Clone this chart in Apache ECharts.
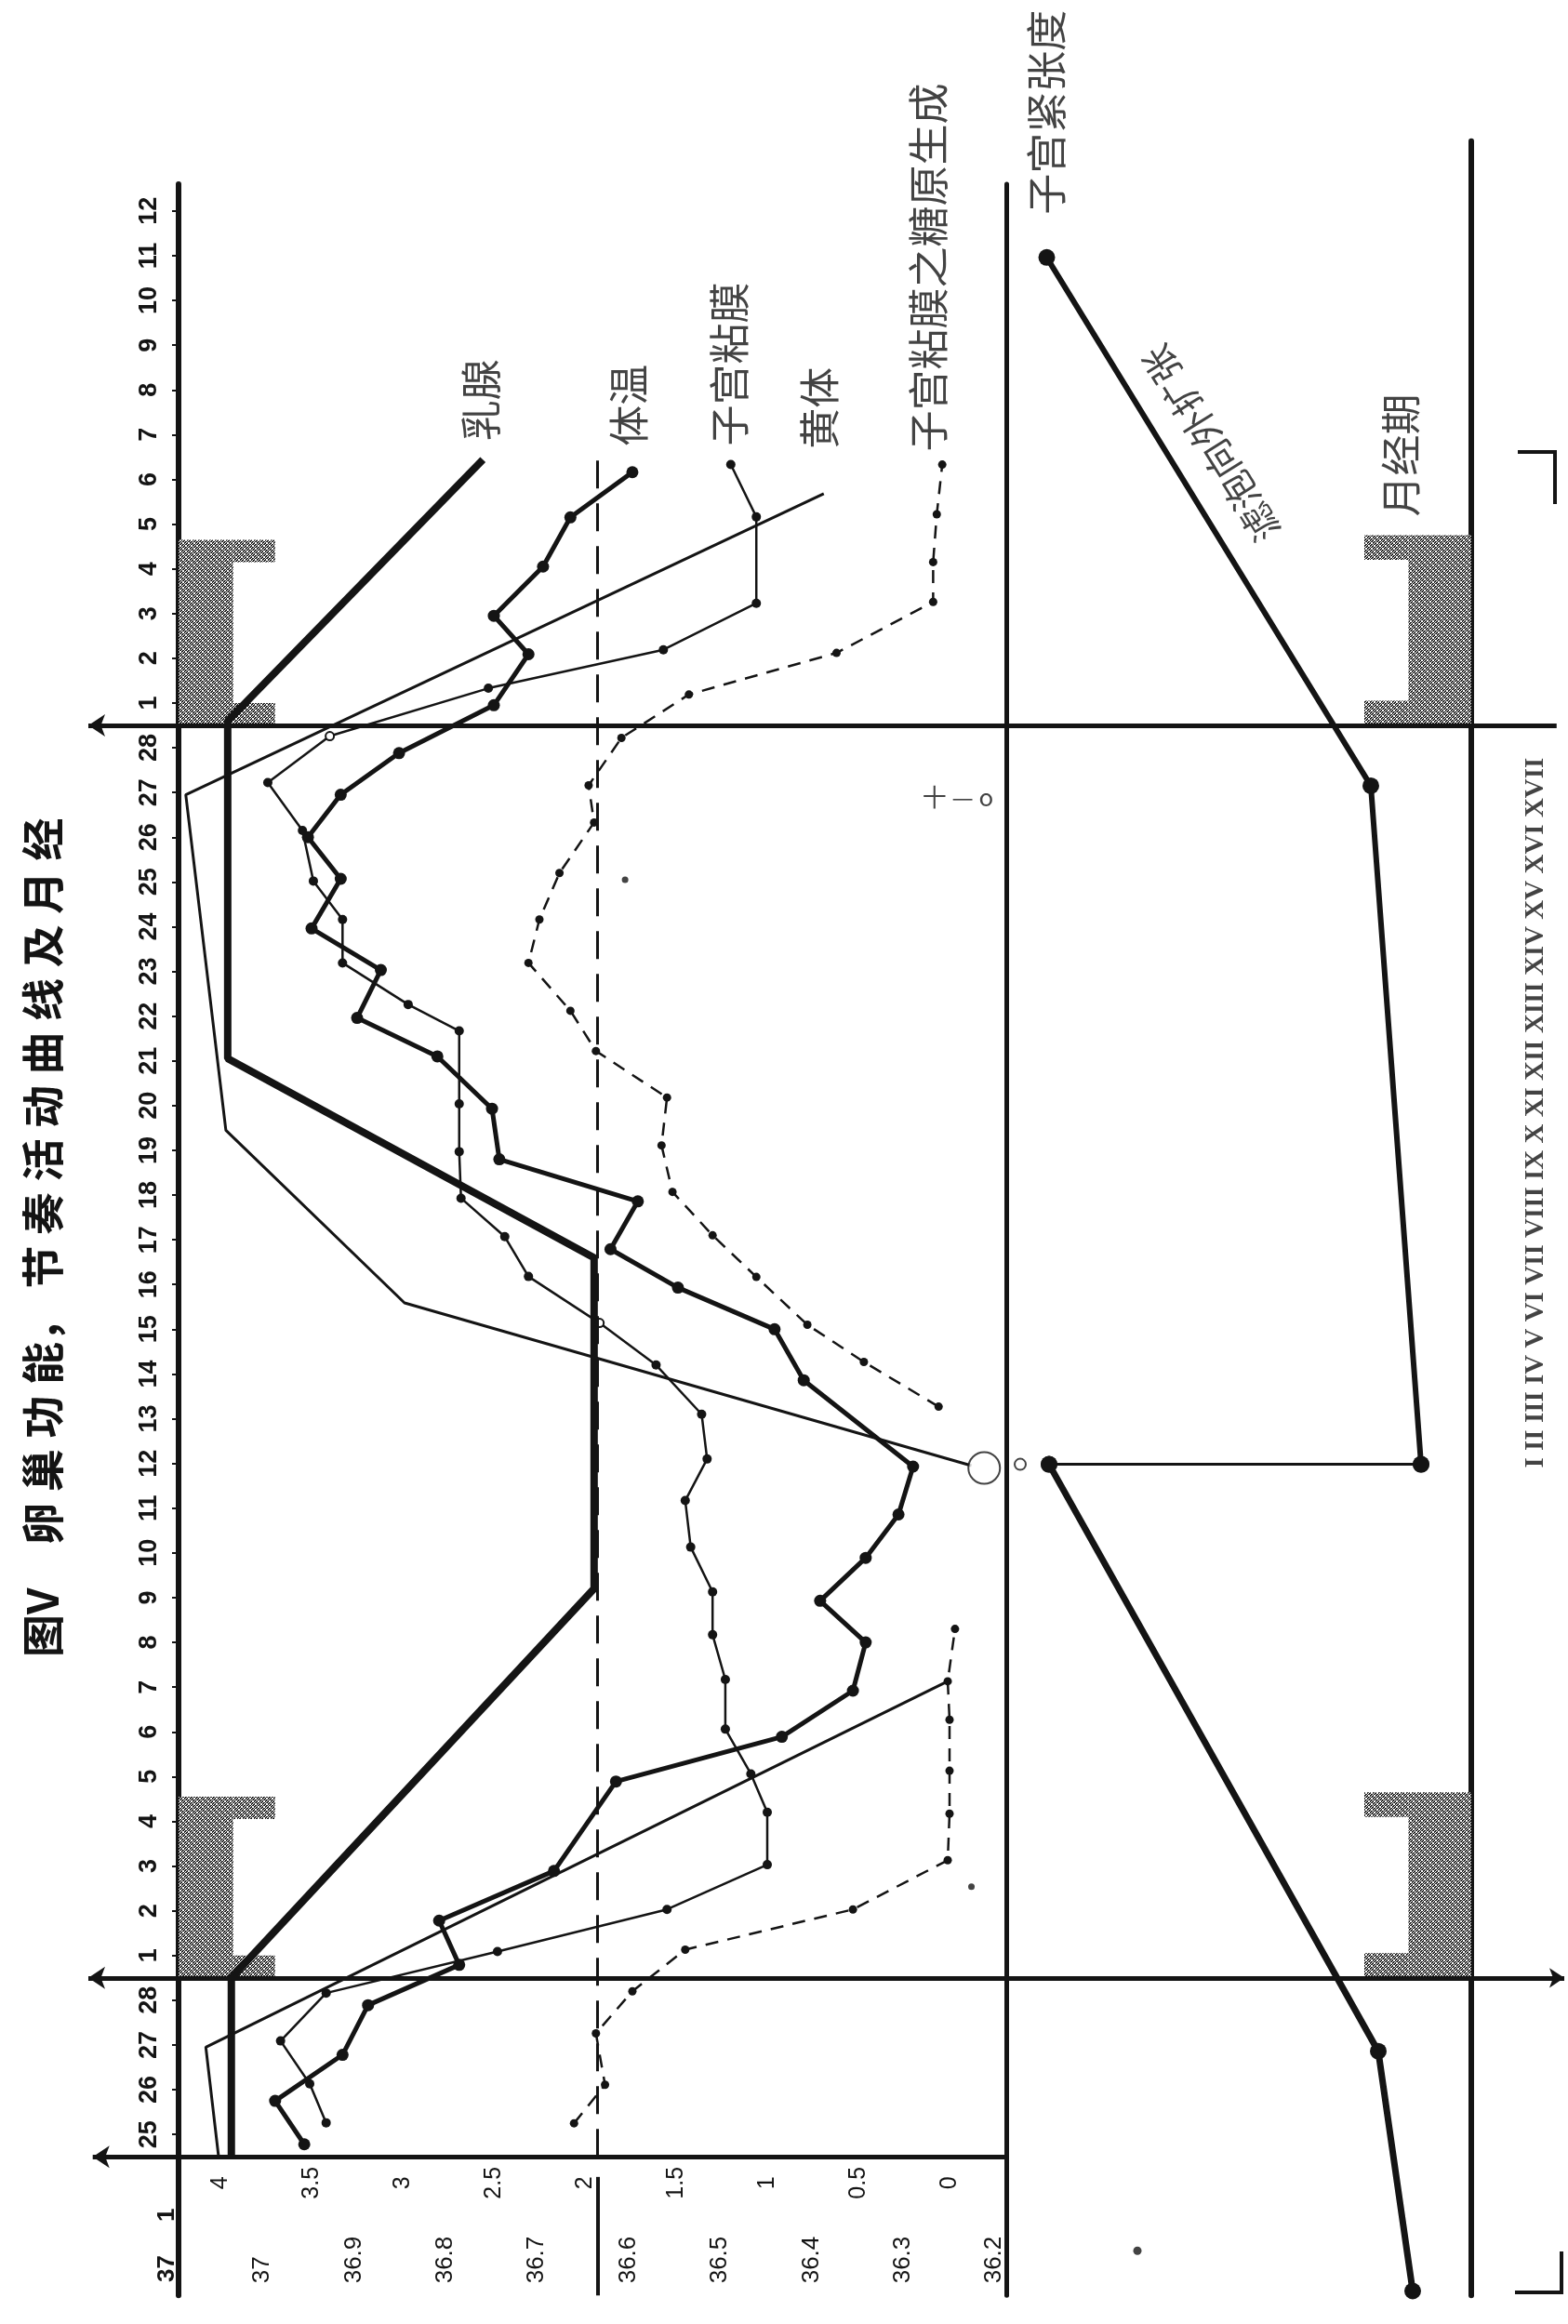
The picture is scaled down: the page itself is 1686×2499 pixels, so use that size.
<!DOCTYPE html>
<html>
<head>
<meta charset="utf-8">
<script src="https://cdn.jsdelivr.net/npm/echarts@6/dist/echarts.min.js"></script>
<style>html,body{margin:0;padding:0;background:#fff}#c{width:1686px;height:2499px}</style>
</head>
<body>
<div id="c"></div>
<script>
// ---------------- DATA (t = day position, v = value scale 0..4) ----------------
// day tick labels along the day axis; position t = index - 3
const dayLabels = ['25','26','27','28',
  '1','2','3','4','5','6','7','8','9','10','11','12','13','14','15','16','17','18','19','20','21','22','23','24','25','26','27','28',
  '1','2','3','4','5','6','7','8','9','10','11','12'];
const extraLabels = ['1','37'];
const extraT = [-4.8, -6.0];
const valueTicks = [4, 3.5, 3, 2.5, 2, 1.5, 1, 0.5, 0];
const valueLabels = ['4','3.5','3','2.5','2','1.5','1','0.5','0'];
const tempTicks = [37, 36.9, 36.8, 36.7, 36.6, 36.5, 36.4, 36.3, 36.2];
const tempLabels = ['37','36.9','36.8','36.7','36.6','36.5','36.4','36.3','36.2'];
const romanLabels = ['I','II','III','IV','V','VI','VII','VIII','IX','X','XI','XII','XIII','XIV','XV','XVI','XVII'];

// 乳腺
const breastT = [-3.5, 0.5, 9.2, 16.6, 21.05, 28.6, 34.44];
const breastV = [3.94, 3.94, 1.95, 1.95, 3.96, 3.96, 2.56];
// 体温
const tempT = [-3.22,-2.25,-1.22,-0.11,0.79,1.78,2.89,4.89,5.89,6.92,8.0,8.93,9.89,10.86,11.93,13.86,15.0,15.93,16.79,17.86,18.8,19.93,21.1,21.96,23.03,23.96,25.07,26.0,26.95,27.88,28.95,30.09,30.95,32.05,33.15,34.16];
const tempV = [3.54,3.70,3.33,3.19,2.69,2.80,2.17,1.83,0.92,0.53,0.46,0.71,0.46,0.28,0.20,0.80,0.96,1.49,1.86,1.71,2.47,2.51,2.81,3.25,3.12,3.50,3.34,3.52,3.34,3.02,2.50,2.31,2.50,2.23,2.08,1.74];
// 子宫粘膜
const endoT = [-2.74,-1.87,-0.91,0.16,1.09,2.03,3.03,4.2,5.06,6.06,7.17,8.17,9.13,10.13,11.17,12.1,13.1,14.2,15.14,16.18,17.07,17.93,18.97,20.04,21.67,22.26,23.19,24.16,25.02,26.15,27.22,28.26,29.33,30.19,31.23,33.16,34.33];
const endoV = [3.42,3.51,3.67,3.42,2.48,1.55,1.0,1.0,1.09,1.23,1.23,1.30,1.30,1.42,1.45,1.33,1.36,1.61,1.92,2.31,2.44,2.68,2.69,2.69,2.69,2.97,3.33,3.33,3.49,3.55,3.74,3.40,2.53,1.57,1.06,1.06,1.20];
const endoOpenT = [15.14, 28.26];
// 黄体
const lutealAT = [-3.5, -1.05, 7.13];
const lutealAV = [4.01, 4.08, 0.01];
const lutealBT = [11.95, 15.59, 19.45, 26.95, 33.68];
const lutealBV = [-0.12, 2.99, 3.97, 4.19, 0.69];
// 子宫粘膜之糖原生成
const glycoAT = [-2.75,-1.89,-0.74,0.2,1.13,2.03,3.13,4.17,5.13,6.27,7.13,8.3];
const glycoAV = [2.06,1.89,1.94,1.74,1.45,0.53,0.01,0.0,0.0,0.0,0.01,-0.03];
const glycoBT = [13.27,14.27,15.1,16.17,17.1,18.07,19.11,20.18,21.22,22.12,23.19,24.16,25.2,26.33,27.16,28.22,29.19,30.12,31.26,32.15,33.22,34.33];
const glycoBV = [0.06,0.47,0.78,1.06,1.30,1.52,1.58,1.55,1.94,2.08,2.31,2.25,2.14,1.95,1.98,1.80,1.43,0.62,0.09,0.09,0.07,0.04];
// ovulation circle
const ovulationT = [11.9];
const ovulationV = [-0.19];
// stray dots
const strayT = [25.05, 2.54];
const strayV = [1.78, -0.12];
// 子宫紧张度 (right panel, scale u 0..100)
const toneT = [-6.5, -1.14, 11.98, 11.98, 27.15, 38.96];
const toneU = [87.4, 80.0, 9.2, 89.2, 78.4, 8.7];
const toneSmallT = [11.98];
const toneSmallU = [3.0];
const rightStrayT = [-5.6];
const rightStrayU = [28.2];
// reference level (dashed) and menstrual periods
const refV = 1.93;
const refT = [-3.5, 34.57];
const mensesT = [[0.5, 4.55], [28.5, 32.65]];
const cycleBounds = [-3.5, 0.5, 28.5];

// ---------------- LAYOUT ----------------
const INK = '#141414';
const CJK = "'Noto Sans CJK SC', 'Noto Sans', sans-serif";
const DAYPX = 48.1;
const tMin = -6.6, tMax0 = 40.6, tMax1 = 41.56;
const gTop0 = 780 - (tMax0 - 28.5) * DAYPX;
const gH0 = (tMax0 - tMin) * DAYPX;
const gTop1 = 780 - (tMax1 - 28.5) * DAYPX;
const gH1 = (tMax1 - tMin) * DAYPX;
const vMin = -0.3112, vMax = 4.2296;

function pts(T, V) { return T.map((t, i) => [V[i], t]); }
function nearestLabel(ticks, labels, val) {
  let b = 0; ticks.forEach((t, i) => { if (Math.abs(t - val) < Math.abs(ticks[b] - val)) b = i; });
  return labels[b];
}
function hatchPattern() {
  const c = document.createElement('canvas'); c.width = 6; c.height = 6;
  const g = c.getContext('2d');
  g.fillStyle = '#ffffff'; g.fillRect(0, 0, 6, 6);
  g.fillStyle = '#1c1c1c';
  for (let y = 0; y < 6; y++) for (let x = 0; x < 6; x++) {
    if (((x + y) % 3 !== 0) && ((x - y + 6) % 6 !== 3)) g.fillRect(x, y, 1, 1);
  }
  return c;
}
const hatch = { image: hatchPattern(), repeat: 'repeat' };

const mainAreas = [];
mensesT.forEach(([a, b]) => {
  mainAreas.push([{ coord: [vMax, a] }, { coord: [3.93, b] }]);
  mainAreas.push([{ coord: [3.93, a] }, { coord: [3.70, a + 0.5] }]);
  mainAreas.push([{ coord: [3.93, b - 0.5] }, { coord: [3.70, b] }]);
});
const rightAreas = [];
mensesT.forEach(([a, b]) => {
  rightAreas.push([{ coord: [86.5, a] }, { coord: [100, b + 0.1] }]);
  rightAreas.push([{ coord: [77, a] }, { coord: [86.5, a + 0.55] }]);
  rightAreas.push([{ coord: [77, b + 0.1 - 0.55] }, { coord: [86.5, b + 0.1] }]);
});

const lblBase = { show: true, position: 'inside', rotate: 90, align: 'left', verticalAlign: 'middle',
  fontFamily: CJK, fontSize: 44, color: INK };
function endAnchor(T, V, gapPx, dxPx) {
  const n = T.length - 1;
  return [V[n] - dxPx / 196, T[n] + gapPx / DAYPX];
}
const mainLabels = [
  { value: endAnchor(breastT, breastV, 20, -2), label: Object.assign({}, lblBase, { formatter: '乳腺' }) },
  { value: endAnchor(tempT, tempV, 28, -4), label: Object.assign({}, lblBase, { formatter: '体温' }) },
  { value: endAnchor(endoT, endoV, 20, -2), label: Object.assign({}, lblBase, { formatter: '子宫粘膜' }) },
  { value: endAnchor(lutealBT, lutealBV, 48, -4), label: Object.assign({}, lblBase, { formatter: '黄体' }) },
  { value: endAnchor(glycoBT, glycoBV, 14, -15), label: Object.assign({}, lblBase, { formatter: '子宫粘膜之糖原生成' }) },
  { value: [-0.046, 26.9], label: { show: true, position: 'inside', formatter: '十 — o', fontFamily: CJK, fontSize: 26, color: INK } }
];
const rightLabels = [
  { value: [toneU[5], toneT[5] + 46 / DAYPX], label: Object.assign({}, lblBase, { formatter: '子宫紧张度' }) },
  { value: [84.8, mensesT[1][1] + 0.1 + 20 / DAYPX], label: Object.assign({}, lblBase, { formatter: '月经期' }) },
  { value: [44, 34.8], label: Object.assign({}, lblBase, { formatter: '滤泡向外扩张', rotate: 122, align: 'center', fontSize: 40 }) },
  { value: [114, 11.9], label: Object.assign({}, lblBase, { formatter: romanLabels.join(' '), fontFamily: "'Liberation Serif', serif", fontWeight: 'bold', fontSize: 29 }) }
];

const hiddenAxis = { show: false, axisLine: { show: false, onZero: false }, splitLine: { show: false } };
const noAxisBits = { axisLine: { show: false, onZero: false }, axisTick: { show: false }, splitLine: { show: false } };

const option = {
  animation: false,
  backgroundColor: '#ffffff',
  grid: [
    { left: 192, width: 890, top: gTop0, height: gH0, containLabel: false, outerBoundsMode: 'none' },
    { left: 1082, width: 500, top: gTop1, height: gH1, containLabel: false, outerBoundsMode: 'none' },
    { left: 95, width: 1587, top: gTop0, height: gH0, containLabel: false, outerBoundsMode: 'none' }
  ],
  xAxis: [
    Object.assign({ type: 'value', gridIndex: 0, min: vMin, max: vMax, inverse: true, position: 'bottom', offset: -121,
      axisLabel: { customValues: valueTicks, rotate: 90, align: 'center', verticalAlign: 'middle', margin: 0,
        fontFamily: "'Liberation Sans', sans-serif", fontSize: 25, color: INK,
        formatter: v => nearestLabel(valueTicks, valueLabels, v) } }, noAxisBits),
    Object.assign({ type: 'value', gridIndex: 0, min: 36.187, max: 37.0915, inverse: true, position: 'bottom', offset: -13,
      axisLabel: { customValues: tempTicks, rotate: 90, align: 'left', verticalAlign: 'middle', margin: 0,
        fontFamily: "'Liberation Sans', sans-serif", fontSize: 26, color: INK,
        formatter: v => nearestLabel(tempTicks, tempLabels, v) } }, noAxisBits),
    Object.assign({ type: 'value', gridIndex: 1, min: 0, max: 100 }, hiddenAxis),
    Object.assign({ type: 'value', gridIndex: 2, min: -3.372, max: 4.724, inverse: true }, hiddenAxis)
  ],
  yAxis: [
    { type: 'value', gridIndex: 0, min: tMin, max: tMax0, position: 'left',
      axisLine: { show: true, onZero: false, lineStyle: { color: INK, width: 6 } },
      axisTick: { show: true, customValues: dayLabels.map((_, i) => i - 3), length: 7, lineStyle: { color: INK, width: 2 } },
      splitLine: { show: false },
      axisLabel: { customValues: dayLabels.map((_, i) => i - 3), rotate: 90, align: 'center', verticalAlign: 'middle', margin: 31,
        fontFamily: "'Liberation Sans', sans-serif", fontWeight: 'bold', fontSize: 27, color: INK,
        formatter: v => dayLabels[Math.round(v) + 3] } },
    Object.assign({ type: 'value', gridIndex: 0, min: tMin, max: tMax0, position: 'left',
      axisLabel: { customValues: extraT, rotate: 90, align: 'center', verticalAlign: 'middle', margin: 12,
        fontFamily: "'Liberation Sans', sans-serif", fontWeight: 'bold', fontSize: 26, color: INK,
        formatter: v => nearestLabel(extraT, extraLabels, v) } }, noAxisBits),
    { type: 'value', gridIndex: 0, min: tMin, max: tMax0, position: 'right',
      axisLine: { show: true, onZero: false, lineStyle: { color: INK, width: 5 } }, axisTick: { show: false }, axisLabel: { show: false }, splitLine: { show: false } },
    { type: 'value', gridIndex: 1, min: tMin, max: tMax1, position: 'right',
      axisLine: { show: true, onZero: false, lineStyle: { color: INK, width: 6 } }, axisTick: { show: false }, axisLabel: { show: false }, splitLine: { show: false } },
    Object.assign({ type: 'value', gridIndex: 2, min: tMin, max: tMax0 }, hiddenAxis)
  ],
  series: [
    // frame lines spanning both panels
    { type: 'line', xAxisIndex: 3, yAxisIndex: 4, data: [[0, -100]], showSymbol: false, silent: true,
      lineStyle: { opacity: 0 },
      markLine: { silent: true, symbol: 'none', label: { show: false }, emphasis: { disabled: true },
        lineStyle: { color: INK, width: 5, type: 'solid' },
        data: [
          [{ coord: [4.70, cycleBounds[0]], symbol: 'arrow', symbolSize: 18 }, { coord: [vMin, cycleBounds[0]], symbol: 'none' }],
          [{ coord: [4.724, cycleBounds[1]], symbol: 'arrow', symbolSize: 18 }, { coord: [-3.372, cycleBounds[1]], symbol: 'arrow', symbolSize: 16 }],
          [{ coord: [4.724, cycleBounds[2]], symbol: 'arrow', symbolSize: 18 }, { coord: [-3.33, cycleBounds[2]], symbol: 'none' }]
        ] } },
    // 乳腺 + hatch blocks + dashed reference
    { type: 'line', name: '乳腺', xAxisIndex: 0, yAxisIndex: 0, data: pts(breastT, breastV), showSymbol: false, silent: true,
      lineStyle: { color: INK, width: 8 }, z: 3,
      markArea: { silent: true, itemStyle: { color: hatch, borderWidth: 0 }, label: { show: false }, data: mainAreas },
      markLine: { silent: true, symbol: 'none', label: { show: false }, emphasis: { disabled: true },
        data: [
          [{ coord: [refV, refT[0]], lineStyle: { color: INK, width: 3, type: [30, 16] } }, { coord: [refV, refT[1]] }],
          [{ coord: [refV, -3.95], lineStyle: { color: INK, width: 4, type: 'solid' } }, { coord: [refV, tMin] }]
        ] } },
    { type: 'line', name: '体温', xAxisIndex: 0, yAxisIndex: 0, data: pts(tempT, tempV), silent: true,
      symbol: 'circle', symbolSize: 13, itemStyle: { color: INK }, lineStyle: { color: INK, width: 5 }, z: 4 },
    { type: 'line', name: '子宫粘膜', xAxisIndex: 0, yAxisIndex: 0, silent: true,
      data: pts(endoT, endoV).map(p => endoOpenT.indexOf(p[1]) >= 0 ? { value: p, symbol: 'emptyCircle', symbolSize: 9 } : p),
      symbol: 'circle', symbolSize: 10, itemStyle: { color: INK }, lineStyle: { color: INK, width: 2.5 }, z: 4 },
    { type: 'line', name: '黄体', xAxisIndex: 0, yAxisIndex: 0, data: pts(lutealAT, lutealAV), showSymbol: false, silent: true,
      lineStyle: { color: INK, width: 3 }, z: 3 },
    { type: 'line', name: '黄体2', xAxisIndex: 0, yAxisIndex: 0, data: pts(lutealBT, lutealBV), showSymbol: false, silent: true,
      lineStyle: { color: INK, width: 3 }, z: 3 },
    { type: 'line', name: '糖原', xAxisIndex: 0, yAxisIndex: 0, data: pts(glycoAT, glycoAV), silent: true,
      symbol: 'circle', symbolSize: 9, itemStyle: { color: INK }, lineStyle: { color: INK, width: 2.5, type: [14, 10] }, z: 4 },
    { type: 'line', name: '糖原2', xAxisIndex: 0, yAxisIndex: 0, data: pts(glycoBT, glycoBV), silent: true,
      symbol: 'circle', symbolSize: 9, itemStyle: { color: INK }, lineStyle: { color: INK, width: 2.5, type: [14, 10] }, z: 4 },
    { type: 'scatter', name: 'ovulation', xAxisIndex: 0, yAxisIndex: 0, data: pts(ovulationT, ovulationV), silent: true,
      symbol: 'emptyCircle', symbolSize: 34, itemStyle: { color: INK, borderWidth: 3 }, z: 5 },
    { type: 'scatter', name: 'stray', xAxisIndex: 0, yAxisIndex: 0, data: pts(strayT, strayV), silent: true,
      symbol: 'circle', symbolSize: 7, itemStyle: { color: INK }, z: 5 },
    { type: 'scatter', name: 'mainLabels', xAxisIndex: 0, yAxisIndex: 0, data: mainLabels, silent: true, clip: false,
      symbolSize: 1, itemStyle: { color: 'rgba(0,0,0,0)' }, z: 6 },
    // right panel: 子宫紧张度
    { type: 'line', xAxisIndex: 2, yAxisIndex: 3, data: pts(toneT.slice(0, 3), toneU.slice(0, 3)), silent: true,
      symbol: 'circle', symbolSize: 18, itemStyle: { color: INK }, lineStyle: { color: INK, width: 7 }, z: 4,
      markArea: { silent: true, itemStyle: { color: hatch, borderWidth: 0 }, label: { show: false }, data: rightAreas } },
    { type: 'line', xAxisIndex: 2, yAxisIndex: 3, data: pts(toneT.slice(2, 4), toneU.slice(2, 4)), silent: true,
      symbol: 'circle', symbolSize: 18, itemStyle: { color: INK }, lineStyle: { color: INK, width: 3 }, z: 4 },
    { type: 'line', xAxisIndex: 2, yAxisIndex: 3, data: pts(toneT.slice(3), toneU.slice(3)), silent: true,
      symbol: 'circle', symbolSize: 18, itemStyle: { color: INK }, lineStyle: { color: INK, width: 6 }, z: 4 },
    { type: 'scatter', xAxisIndex: 2, yAxisIndex: 3, data: pts(toneSmallT, toneSmallU), silent: true,
      symbol: 'emptyCircle', symbolSize: 12, itemStyle: { color: INK, borderWidth: 2 }, z: 5 },
    { type: 'scatter', xAxisIndex: 2, yAxisIndex: 3, data: pts(rightStrayT, rightStrayU), silent: true,
      symbol: 'circle', symbolSize: 9, itemStyle: { color: INK }, z: 5 },
    { type: 'scatter', xAxisIndex: 2, yAxisIndex: 3, data: rightLabels, silent: true, clip: false,
      symbolSize: 1, itemStyle: { color: 'rgba(0,0,0,0)' }, z: 6 }
  ],
  graphic: [
    { type: 'text', x: 46, y: 1782, rotation: Math.PI / 2, silent: true,
      style: { text: '图V\u2003卵\u2005巢\u2005功\u2005能，\u2005节\u2005奏\u2005活\u2005动\u2005曲\u2005线\u2005及\u2005月\u2005经',
        font: "bold 46px 'Noto Sans CJK SC', sans-serif", fill: INK, textAlign: 'left', textVerticalAlign: 'middle' } },
    { type: 'polyline', silent: true, shape: { points: [[1632, 486], [1672, 486], [1672, 542]] }, style: { stroke: INK, lineWidth: 4, fill: null } },
    { type: 'polyline', silent: true, shape: { points: [[1629, 2465], [1679, 2465], [1679, 2421]] }, style: { stroke: INK, lineWidth: 4, fill: null } }
  ]
};

const chart = echarts.init(document.getElementById('c'), null, { renderer: 'canvas', width: 1686, height: 2499 });
chart.setOption(option);
</script>
</body>
</html>
